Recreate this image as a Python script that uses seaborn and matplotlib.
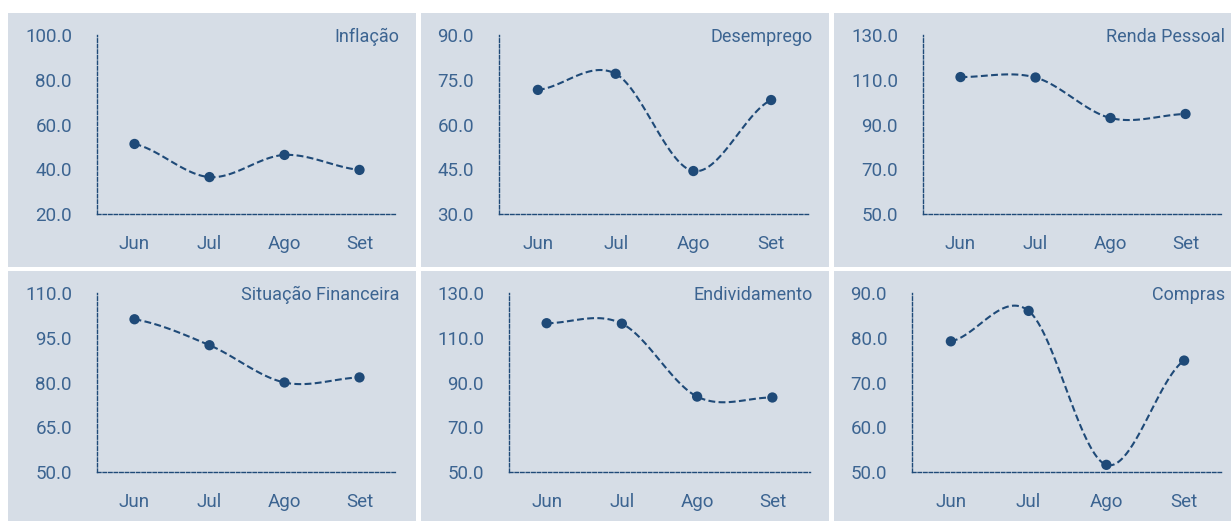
import numpy as np
import pandas as pd
import seaborn as sns
import matplotlib.pyplot as plt
from matplotlib.patches import Rectangle

# data
meses = ["Jun", "Jul", "Ago", "Set"]
titulos = ["Inflação", "Desemprego", "Renda Pessoal",
           "Situação Financeira", "Endividamento", "Compras"]
inflacao = [51.3, 36.5, 46.4, 39.7]
desemprego = [71.6, 77.0, 44.4, 68.2]
renda_pessoal = [111.2, 111.0, 92.9, 94.7]
situacao_financeira = [101.2, 92.5, 80.0, 81.7]
endividamento = [116.5, 116.3, 83.7, 83.3]
compras = [79.2, 86.0, 51.6, 74.9]
series = [inflacao, desemprego, renda_pessoal,
          situacao_financeira, endividamento, compras]
y_ticks = [
    [20, 40, 60, 80, 100],
    [30, 45, 60, 75, 90],
    [50, 70, 90, 110, 130],
    [50, 65, 80, 95, 110],
    [50, 70, 90, 110, 130],
    [50, 60, 70, 80, 90],
]

W, H = 1231, 521
BG = "#d6dde6"
LINE = "#1f4a78"
TXT = "#3c6491"

sns.set_theme(style="white")
plt.rcParams["font.family"] = ["Roboto", "DejaVu Sans"]

# pixel boxes: (left, right, top, bottom)
axes_px = [
    (97, 397, 35, 214), (499, 810, 35, 214), (923, 1223, 35, 214),
    (97, 397, 293, 472), (509, 810, 293, 472), (912, 1223, 293, 472),
]
bg_cols = [(8, 416), (421, 829), (834, 1231)]
bg_rows = [(13, 267), (271, 521)]


def smooth(vals, n=40):
    # Catmull-Rom curve through the points (same as a smoothed line chart)
    p = np.asarray(vals, float)
    ext = np.concatenate([[p[0]], p, [p[-1]]])
    xs, ys = [], []
    for i in range(len(p) - 1):
        p0, p1, p2, p3 = ext[i], ext[i + 1], ext[i + 2], ext[i + 3]
        m1, m2 = (p2 - p0) / 2, (p3 - p1) / 2
        t = np.linspace(0, 1, n, endpoint=(i == len(p) - 2))
        h00 = 2 * t**3 - 3 * t**2 + 1
        h10 = t**3 - 2 * t**2 + t
        h01 = -2 * t**3 + 3 * t**2
        h11 = t**3 - t**2
        xs.append(i + t)
        ys.append(h00 * p1 + h10 * m1 + h01 * p2 + h11 * m2)
    return np.concatenate(xs), np.concatenate(ys)


fig = plt.figure(figsize=(W / 100, H / 100), dpi=100)
fig.patch.set_facecolor("white")

for (r0, r1) in bg_rows:
    for (c0, c1) in bg_cols:
        fig.patches.append(Rectangle((c0 / W, 1 - r1 / H), (c1 - c0) / W, (r1 - r0) / H,
                                     transform=fig.transFigure, facecolor=BG,
                                     edgecolor="none", zorder=-1))

for k, (vals, titulo, ticks) in enumerate(zip(series, titulos, y_ticks)):
    l, r, t, b = axes_px[k]
    ax = fig.add_axes([l / W, 1 - b / H, (r - l) / W, (b - t) / H])
    ax.set_facecolor("none")
    ax.set_zorder(2)

    xs, ys = smooth(vals)
    curve = pd.DataFrame({"x": xs, "y": ys})
    pts = pd.DataFrame({"x": np.arange(len(meses)), "y": vals})
    sns.lineplot(data=curve, x="x", y="y", ax=ax, color=LINE, lw=1.5,
                 linestyle=(0, (3.3, 1.6)), sort=False)
    sns.scatterplot(data=pts, x="x", y="y", ax=ax, color=LINE, s=55,
                    edgecolor="none", zorder=3)

    ax.set_xlim(-0.5, len(meses) - 0.5)
    ax.set_ylim(ticks[0], ticks[-1])
    ax.set_xticks(range(len(meses)))
    ax.set_xticklabels(meses)
    ax.set_yticks(ticks)
    ax.set_yticklabels([f"{v:.1f}" for v in ticks])
    ax.set_xlabel("")
    ax.set_ylabel("")
    ax.tick_params(axis="both", length=0, labelsize=13.5, labelcolor=TXT)
    ax.tick_params(axis="y", pad=18)
    ax.tick_params(axis="x", pad=15)

    for side in ["top", "right"]:
        ax.spines[side].set_visible(False)
    for side in ["left", "bottom"]:
        ax.spines[side].set_color(LINE)
        ax.spines[side].set_linewidth(1.0)
        ax.spines[side].set_linestyle((0, (2.5, 1.5)))

    ax.text(1.008, 0.99, titulo, transform=ax.transAxes, ha="right", va="center",
            fontsize=13, color=TXT)

fig.savefig("out.png", dpi=100, facecolor="white")
